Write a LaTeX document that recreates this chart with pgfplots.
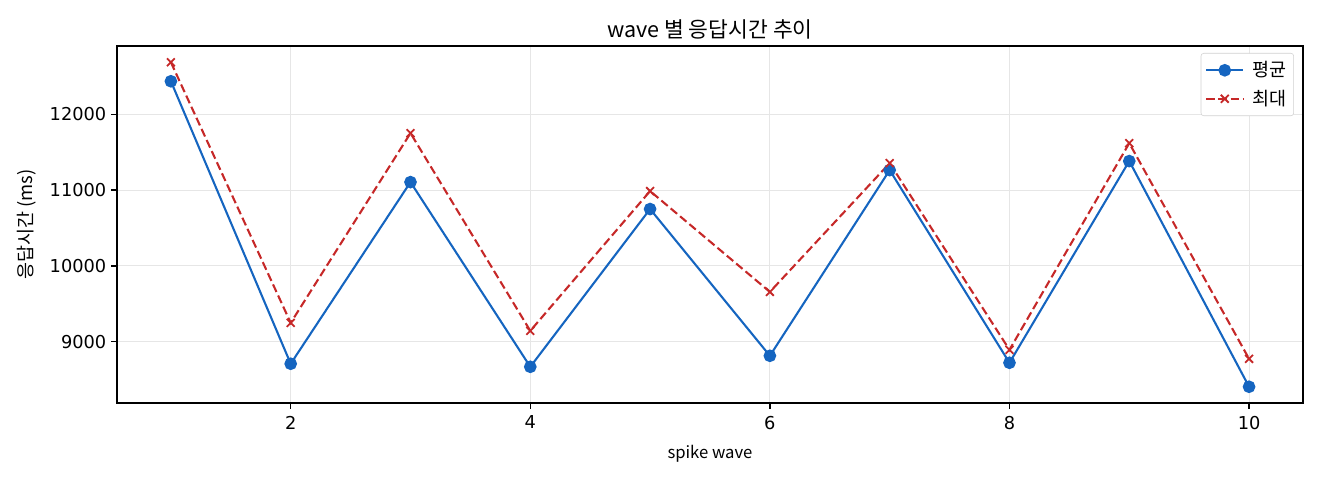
\documentclass[border=0pt]{standalone}
\usepackage{pgfplots}
\pgfplotsset{compat=1.18}
\usepackage{fontspec}
\setmainfont{Noto Sans CJK KR}
\newfontfamily\numfont{DejaVu Sans}
\definecolor{avgblue}{HTML}{1565C0}
\definecolor{maxred}{HTML}{C62828}
\definecolor{gridgray}{HTML}{E6E6E6}

\begin{document}
\begin{tikzpicture}
\useasboundingbox (-84.24pt,-55.44pt) rectangle (866.16pt,290.16pt);
\begin{axis}[
  scale only axis,
  width=853.9pt, height=257pt,
  xmin=0.55, xmax=10.45,
  ymin=8194, ymax=12898,
  xtick={2,4,6,8,10},
  ytick={9000,10000,11000,12000},
  scaled y ticks=false,
  /pgf/number format/set thousands separator={},
  /pgf/number format/assume math mode=true,
  tick pos=left,
  tick align=outside,
  major tick length=4.2pt,
  every tick/.style={black, line width=0.9pt},
  axis line style={line width=0.9pt},
  grid=major,
  major grid style={gridgray, line width=0.7pt},
  ticklabel style={font=\numfont\fontsize{12.8}{14}\selectfont},
  xticklabel style={yshift=-1.5pt},
  title={wave 별 응답시간 추이},
  title style={at={(0.5,1)}, anchor=south, inner sep=0pt, yshift=-1pt,
    font=\fontsize{15.5}{17}\selectfont},
  xlabel={spike wave},
  xlabel style={at={(axis description cs:0.5,0)}, anchor=north, inner sep=0pt,
    yshift=-30pt, font=\fontsize{12}{14}\selectfont},
  ylabel={응답시간 (ms)},
  ylabel style={at={(axis description cs:-0.068,0.5)}, anchor=south, inner sep=0pt,
    font=\fontsize{13.3}{15}\selectfont},
  legend style={at={(1,1)}, anchor=north east, xshift=-6.5pt, yshift=-5pt,
    draw=black!18, rounded corners=2pt, fill=white,
    font=\fontsize{13.3}{15}\selectfont, cells={anchor=west},
    row sep=4pt, column sep=4pt, inner xsep=3pt, inner ysep=4pt},
  legend image code/.code={
    \draw[mark repeat=2, mark phase=2, #1]
      plot coordinates {(0cm,0cm) (0.47cm,0cm) (0.94cm,0cm)};
  },
]
\addplot[color=avgblue, line width=1.5pt, mark=*, mark size=3.8pt,
  mark options={solid, fill=avgblue, draw=avgblue}]
  coordinates {
    (1,12434) (2,8711) (3,11105) (4,8671) (5,10750)
    (6,8816) (7,11263) (8,8724) (9,11382) (10,8408)
  };
\addlegendentry{평균}

\addplot[color=maxred, line width=1.5pt, dash pattern=on 6pt off 2.8pt,
  mark=x, mark size=4pt, mark options={solid, line width=1.3pt}]
  coordinates {
    (1,12684) (2,9250) (3,11750) (4,9145) (5,10987)
    (6,9658) (7,11355) (8,8895) (9,11618) (10,8776)
  };
\addlegendentry{최대}
\end{axis}
\end{tikzpicture}
\end{document}
